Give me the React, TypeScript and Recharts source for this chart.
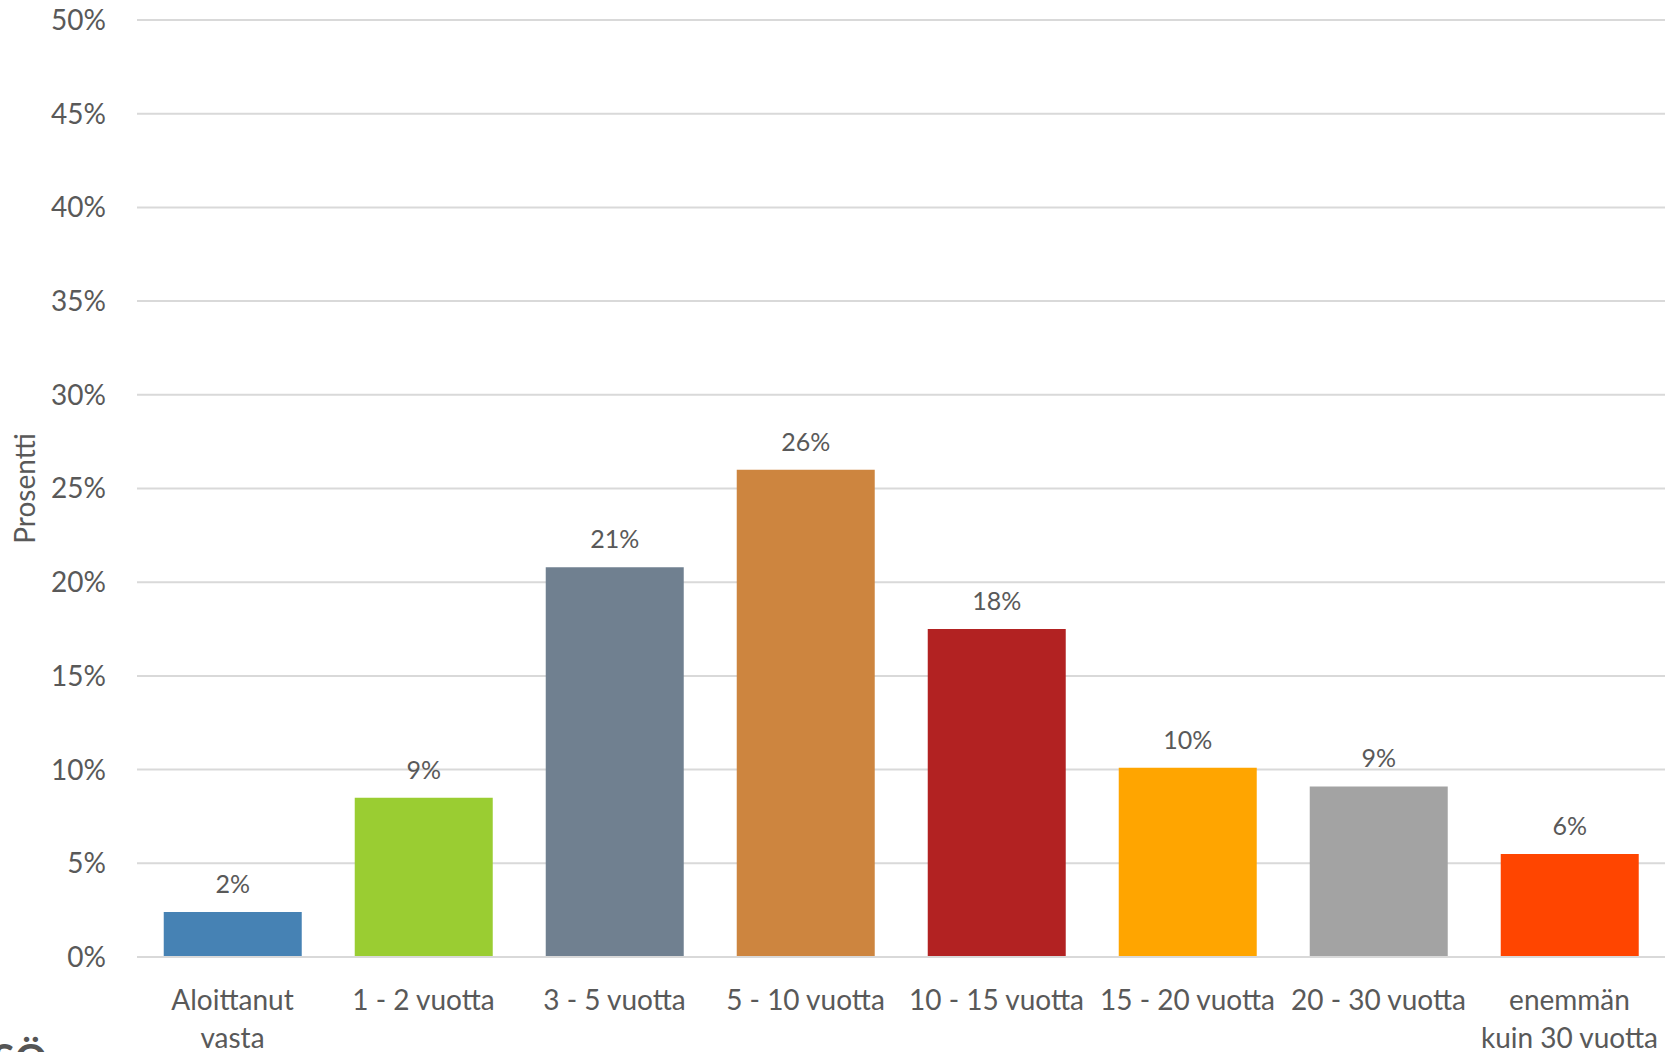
import React from 'react';
import { BarChart, Bar, XAxis, YAxis, CartesianGrid, Cell, LabelList } from 'recharts';

// kokemusvuodet
const categories = [
  'Aloittanut\nvasta',
  '1 - 2 vuotta',
  '3 - 5 vuotta',
  '5 - 10 vuotta',
  '10 - 15 vuotta',
  '15 - 20 vuotta',
  '20 - 30 vuotta',
  'enemmän\nkuin 30 vuotta',
];
const percentages = [2.4, 8.5, 20.8, 26.0, 17.5, 10.1, 9.1, 5.5];
const barColors = ['#4682B4', '#9ACD32', '#708090', '#CD853F', '#B22222', '#FFA500', '#A3A3A3', '#FF4500'];
const yTicks = [0, 5, 10, 15, 20, 25, 30, 35, 40, 45, 50];
const yAxisTitle = 'Prosentti';

const data = categories.map((name, i) => ({ name, value: percentages[i] }));

const FONT = 'Lato, "Open Sans", sans-serif';
const TEXT = '#595959';

const CategoryTick = (props: any) => {
  const { x, y, payload } = props;
  const lines = String(payload.value).split('\n');
  return (
    <text x={x} y={y} textAnchor="middle" fill={TEXT} fontSize={28} fontFamily={FONT}>
      {lines.map((l, i) => (
        <tspan key={i} x={x} y={y + 53 + i * 38}>{l}</tspan>
      ))}
    </text>
  );
};

const YTitle = (props: any) => {
  const { viewBox } = props;
  const cy = viewBox.y + viewBox.height / 2;
  const cx = 24;
  return (
    <text
      x={cx}
      y={cy}
      transform={`rotate(-90 ${cx} ${cy})`}
      textAnchor="middle"
      dominantBaseline="central"
      fill={TEXT}
      fontSize={28}
      fontFamily={FONT}
    >
      {yAxisTitle}
    </text>
  );
};

export default function App() {
  return (
    <div style={{ position: 'absolute', left: 0, top: 0, width: 1670, height: 1052, overflow: 'hidden', background: '#fff' }}>
      <BarChart
        width={1670}
        height={1052}
        data={data}
        margin={{ top: 20, right: 5, bottom: 0, left: 0 }}
        barCategoryGap="14%"
      >
        <CartesianGrid horizontal vertical={false} stroke="#D9D9D9" strokeWidth={2} />
        <XAxis
          dataKey="name"
          height={95}
          interval={0}
          tickLine={false}
          tickSize={0}
          tickMargin={0}
          axisLine={{ stroke: '#D9D9D9', strokeWidth: 2 }}
          tick={<CategoryTick />}
        />
        <YAxis
          width={137}
          domain={[0, 50]}
          ticks={yTicks}
          interval={0}
          tickLine={false}
          axisLine={false}
          tickSize={0}
          tickMargin={31}
          tickFormatter={(v) => `${v}%`}
          tick={{ fill: TEXT, fontSize: 28, fontFamily: FONT }}
          label={{ content: <YTitle /> }}
        />
        <Bar dataKey="value" isAnimationActive={false}>
          {data.map((d, i) => (
            <Cell key={d.name} fill={barColors[i]} />
          ))}
          <LabelList
            dataKey="value"
            position="top"
            offset={19}
            formatter={(v: any) => `${Math.round(v)}%`}
            style={{ fill: TEXT, fontSize: 25, fontFamily: FONT }}
          />
        </Bar>
      </BarChart>
      <span
        style={{
          position: 'absolute',
          right: 1670 - 47,
          top: 1038,
          fontFamily: FONT,
          fontWeight: 700,
          fontSize: 40,
          color: '#555',
          lineHeight: 1,
        }}
      >
        SÖ
      </span>
    </div>
  );
}
